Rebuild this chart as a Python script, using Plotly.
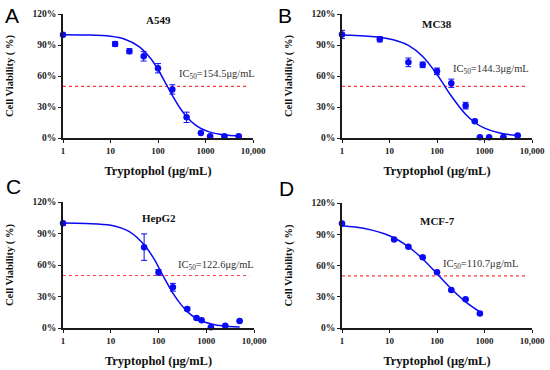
import plotly.graph_objects as go

# ---------------- data ----------------
panel_letters = ["A", "B", "C", "D"]
cell_lines = ["A549", "MC38", "HepG2", "MCF-7"]
ic50_labels = ["154.5", "144.3", "122.6", "110.7"]

# measured points (concentration µg/mL, viability %, error %)
a_conc = [1, 12.5, 25, 50, 100, 200, 400, 800, 1250, 2500, 5000]
a_viab = [100, 91, 84, 79, 67.5, 47, 20, 4.8, 1.8, 1.8, 1.8]
a_err = [0.8, 2.3, 2.4, 4.5, 4.5, 4.5, 5, 0.5, 0.5, 0.5, 0.5]

b_conc = [1, 6.25, 25, 50, 100, 200, 400, 625, 800, 1250, 2500, 5000]
b_viab = [100.2, 95.5, 73.2, 70.8, 64.5, 53, 31.3, 16.2, 0.7, 0.7, 1, 2.3]
b_err = [4, 2.5, 4.2, 2.7, 3.2, 4, 3.2, 1.5, 0.4, 0.4, 0.4, 0.6]

c_conc = [1, 50, 100, 200, 400, 625, 800, 1250, 2500, 5000]
c_viab = [99.7, 77, 53, 38.8, 18.2, 9.6, 7.3, 0.6, 2.2, 6.7]
c_err = [1.5, 12.6, 2.7, 3.7, 1.5, 1, 1, 0.5, 0.5, 0.5]

d_conc = [1, 12.5, 25, 50, 100, 200, 400, 800]
d_viab = [100.3, 85, 78, 68, 53.5, 36.5, 27.5, 14]
d_err = [0.6, 1, 1, 1, 1, 1, 1, 1]

# fitted curves
a_fit_x = [1, 3, 10, 20, 40, 70, 100, 154.5, 200, 300, 400, 600, 800, 1200, 2000, 3000, 5000]
a_fit_y = [100, 99.7, 98.4, 95.6, 88.5, 77, 66.3, 50.7, 41.3, 28.1, 20.6, 12.9, 9.2, 5.9, 3.6, 2.6, 2.0]

b_fit_x = [1, 3, 6.25, 12, 25, 50, 100, 144.3, 200, 400, 625, 1000, 2000, 3000, 5000]
b_fit_y = [99.6, 98.7, 97.6, 95, 89.6, 78.9, 61.5, 50.5, 40.6, 22.9, 15, 9.5, 5, 3.6, 2.6]

c_fit_x = [1, 3, 10, 25, 50, 80, 122.6, 200, 300, 400, 600, 800, 1500, 3000, 5000]
c_fit_y = [100, 99.6, 97.8, 91.5, 79.2, 66, 50.3, 33.3, 22, 15.6, 9.5, 6.6, 3.0, 1.4, 0.9]

d_fit_x = [1, 3, 10, 25, 50, 110.7, 200, 400, 800]
d_fit_y = [98.2, 95.5, 88.5, 78, 66.3, 50, 37.7, 25.1, 15.5]

ref_level = [50, 50]
ref_x = [1, 8000]

x_tick_vals = [1, 10, 100, 1000, 10000]
x_tick_text = ["1", "10", "100", "1000", "10,000"]
y_tick_vals = [0, 30, 60, 90, 120]
y_tick_text = ["0%", "30%", "60%", "90%", "120%"]

panels = [
    (a_conc, a_viab, a_err, a_fit_x, a_fit_y),
    (b_conc, b_viab, b_err, b_fit_x, b_fit_y),
    (c_conc, c_viab, c_err, c_fit_x, c_fit_y),
    (d_conc, d_viab, d_err, d_fit_x, d_fit_y),
]

# ---------------- layout / style ----------------
W, H = 550, 370
BLUE = "#0a0af5"
AXIS = "#1a1a1a"
SERIF = "Liberation Serif, Times New Roman, serif"

# plot boxes in pixels: (left, right, top, bottom)
boxes = [(63, 253, 14, 138), (342, 532, 14, 138), (63, 254, 202, 328), (342, 532, 203, 328)]
title_y = [114, 110, 105, 102.5]
ic_pos = [(0.60, 61), (0.572, 66.5), (0.59, 60), (0.52, 60.5)]
letter_pos = [(12, 15), (285, 15), (13, 186), (286, 188)]

fig = go.Figure()
layout = dict(width=W, height=H, autosize=False,
              margin=dict(l=0, r=0, t=0, b=0, autoexpand=False),
              paper_bgcolor="white", plot_bgcolor="white",
              showlegend=False)
annotations = []

for i, (cx, cy, ce, fx, fy) in enumerate(panels):
    n = i + 1
    xa = "x" if n == 1 else f"x{n}"
    ya = "y" if n == 1 else f"y{n}"
    l, r, t, b = boxes[i]
    xdom = [l / W, r / W]
    ydom = [1 - b / H, 1 - t / H]

    # reference line at 50%
    fig.add_trace(go.Scatter(x=ref_x, y=ref_level, mode="lines",
                             line=dict(color="#ff3b3b", width=1.2, dash="dot"),
                             xaxis=xa, yaxis=ya, hoverinfo="skip"))
    # fitted curve
    fig.add_trace(go.Scatter(x=fx, y=fy, mode="lines",
                             line=dict(color=BLUE, width=1.5, shape="spline", smoothing=1.0),
                             xaxis=xa, yaxis=ya))
    # points
    fig.add_trace(go.Scatter(x=cx, y=cy, mode="markers",
                             marker=dict(color=BLUE, size=6.5),
                             error_y=dict(type="data", array=ce, visible=True,
                                          color=BLUE, thickness=1, width=3),
                             cliponaxis=False,
                             xaxis=xa, yaxis=ya))

    xkey = "xaxis" if n == 1 else f"xaxis{n}"
    ykey = "yaxis" if n == 1 else f"yaxis{n}"
    layout[xkey] = dict(domain=xdom, anchor=ya, type="log", range=[0, 4],
                        automargin=False,
                        tickvals=x_tick_vals, ticktext=x_tick_text,
                        showline=True, linecolor=AXIS, linewidth=1.5,
                        ticks="outside", ticklen=3, tickwidth=1.2, tickcolor=AXIS,
                        showgrid=False, zeroline=False,
                        tickfont=dict(family=SERIF, size=9, color="#222", weight="bold"),
                        title=dict(text="Tryptophol (μg/mL)", standoff=12,
                                   font=dict(family=SERIF, size=12.5, color="#111", weight="bold")))
    layout[ykey] = dict(domain=ydom, anchor=xa, range=[0, 120],
                        automargin=False,
                        tickvals=y_tick_vals, ticktext=y_tick_text,
                        showline=True, linecolor=AXIS, linewidth=1.5,
                        ticks="outside", ticklen=3, tickwidth=1.2, tickcolor=AXIS,
                        showgrid=False, zeroline=False,
                        tickfont=dict(family=SERIF, size=9.5, color="#222", weight="bold"),
                        title=dict(text="Cell Viability ( %)", standoff=17,
                                   font=dict(family=SERIF, size=10.5, color="#111", weight="bold")))

    # panel title
    annotations.append(dict(text=cell_lines[i], x=0.5, y=title_y[i],
                            xref=f"{xa} domain", yref=ya, showarrow=False,
                            xanchor="center", yanchor="middle",
                            font=dict(family=SERIF, size=11, color="#111", weight="bold")))
    # IC50 label
    ix, iy = ic_pos[i]
    annotations.append(dict(text=f"IC<sub>50</sub>={ic50_labels[i]}μg/mL", x=ix, y=iy,
                            xref=f"{xa} domain", yref=ya, showarrow=False,
                            xanchor="left", yanchor="middle",
                            font=dict(family=SERIF, size=10.5, color="#333")))
    # panel letter
    lx, ly = letter_pos[i]
    annotations.append(dict(text=panel_letters[i], x=lx / W, y=1 - ly / H,
                            xref="paper", yref="paper", showarrow=False,
                            xanchor="center", yanchor="middle",
                            font=dict(family="Liberation Sans, Arial, sans-serif", size=21, color="#000")))

layout["annotations"] = annotations
fig.update_layout(**layout)
fig.write_html("out.html", config={"displayModeBar": False},
               post_script="document.body.style.margin='0';document.body.style.padding='0';")
